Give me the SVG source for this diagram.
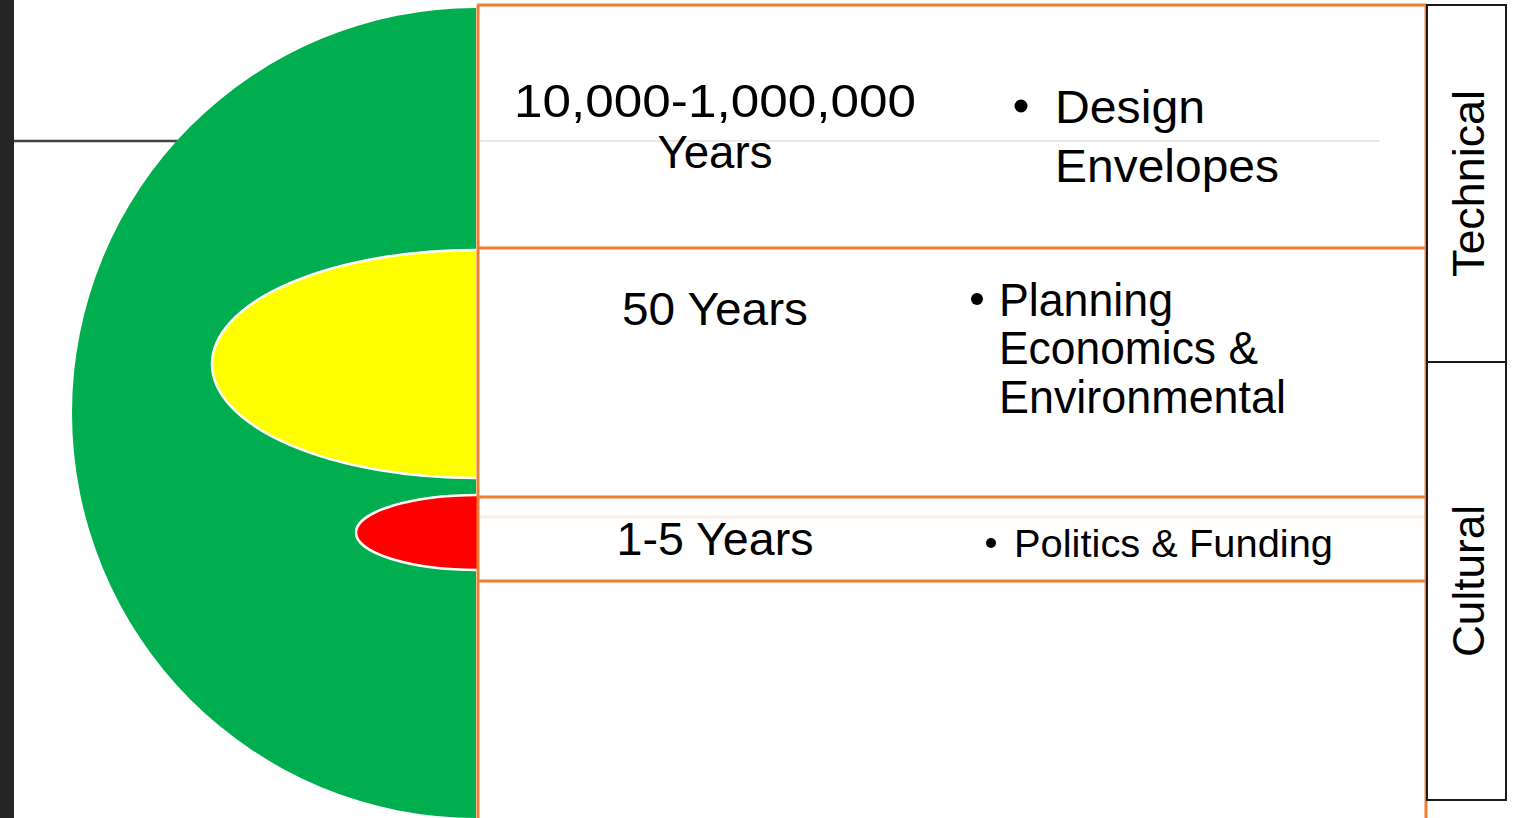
<svg xmlns="http://www.w3.org/2000/svg" width="1519" height="818" viewBox="0 0 1519 818">
  <style>
    .t { font-family: "Liberation Sans", Arial, sans-serif; fill: #000; }
    .big { font-size: 46px; }
    .mid { font-size: 39px; }
    .side { font-size: 44px; }
    .orange { stroke: #ED7D31; stroke-width: 3; fill: none; }
    .frame { stroke: #1a1a1a; stroke-width: 2; fill: #fff; }
    .rim { stroke: #fff; stroke-width: 2.5; }
  </style>

  <!-- page background and dark margin -->
  <rect x="0" y="0" width="1519" height="818" fill="#fff"/>
  <rect x="0" y="0" width="14" height="818" fill="#252525"/>

  <!-- rule on the left, behind the disc -->
  <line x1="14" y1="141" x2="180" y2="141" stroke="#444" stroke-width="2.5"/>

  <!-- nested half-discs -->
  <g id="horizon-long">
    <path d="M476 8 A404 405 0 0 0 476 818 Z" fill="#00AE4F"/>
  </g>
  <g id="horizon-mid">
    <path d="M476 250 A264 114 0 0 0 476 478" fill="#FFFF00" class="rim"/>
  </g>
  <g id="horizon-short">
    <path d="M478 495 A122 37.5 0 0 0 478 570" fill="#FF0000" class="rim"/>
  </g>

  <!-- faint guide lines inside rows -->
  <line x1="480" y1="141" x2="1380" y2="141" stroke="#e8e8e8" stroke-width="2"/>
  <line x1="480" y1="517" x2="1425" y2="517" stroke="#fdeee5" stroke-width="3"/>

  <!-- table grid -->
  <g id="connectors">
    <line class="orange" x1="478" y1="5" x2="478" y2="818"/>
    <line class="orange" x1="1426" y1="5" x2="1426" y2="818"/>
    <line class="orange" x1="477" y1="5" x2="1427" y2="5"/>
    <line class="orange" x1="477" y1="248" x2="1427" y2="248"/>
    <line class="orange" x1="477" y1="497" x2="1427" y2="497"/>
    <line class="orange" x1="477" y1="581" x2="1427" y2="581"/>
  </g>

  <!-- row: long term -->
  <g id="row-long">
    <text class="t big" x="715" y="117" text-anchor="middle" textLength="402" lengthAdjust="spacingAndGlyphs">10,000-1,000,000</text>
    <text class="t big" x="715" y="168" text-anchor="middle" textLength="115" lengthAdjust="spacingAndGlyphs">Years</text>
    <circle cx="1021" cy="106" r="6.5"/>
    <text class="t big" x="1055" y="123" textLength="150" lengthAdjust="spacingAndGlyphs">Design</text>
    <text class="t big" x="1055" y="182" textLength="224" lengthAdjust="spacingAndGlyphs">Envelopes</text>
  </g>

  <!-- row: medium term -->
  <g id="row-mid">
    <text class="t big" x="715" y="325" text-anchor="middle" textLength="186" lengthAdjust="spacingAndGlyphs">50 Years</text>
    <circle cx="977" cy="299" r="6"/>
    <text class="t big" x="999" y="316" textLength="174" lengthAdjust="spacingAndGlyphs">Planning</text>
    <text class="t big" x="999" y="364" textLength="259" lengthAdjust="spacingAndGlyphs">Economics &amp;</text>
    <text class="t big" x="999" y="413" textLength="287" lengthAdjust="spacingAndGlyphs">Environmental</text>
  </g>

  <!-- row: short term -->
  <g id="row-short">
    <text class="t big" x="715" y="555" text-anchor="middle" textLength="197" lengthAdjust="spacingAndGlyphs">1-5 Years</text>
    <circle cx="991" cy="543" r="5"/>
    <text class="t mid" x="1014" y="557" textLength="319" lengthAdjust="spacingAndGlyphs">Politics &amp; Funding</text>
  </g>

  <!-- side labels -->
  <g id="label-technical">
    <rect class="frame" x="1427" y="5" width="79" height="357"/>
    <text class="t side" transform="translate(1484 183.5) rotate(-90)" text-anchor="middle" textLength="187" lengthAdjust="spacingAndGlyphs">Technical</text>
  </g>
  <g id="label-cultural">
    <rect class="frame" x="1427" y="362" width="79" height="438"/>
    <text class="t side" transform="translate(1484 581) rotate(-90)" text-anchor="middle" textLength="152" lengthAdjust="spacingAndGlyphs">Cultural</text>
  </g>
</svg>
